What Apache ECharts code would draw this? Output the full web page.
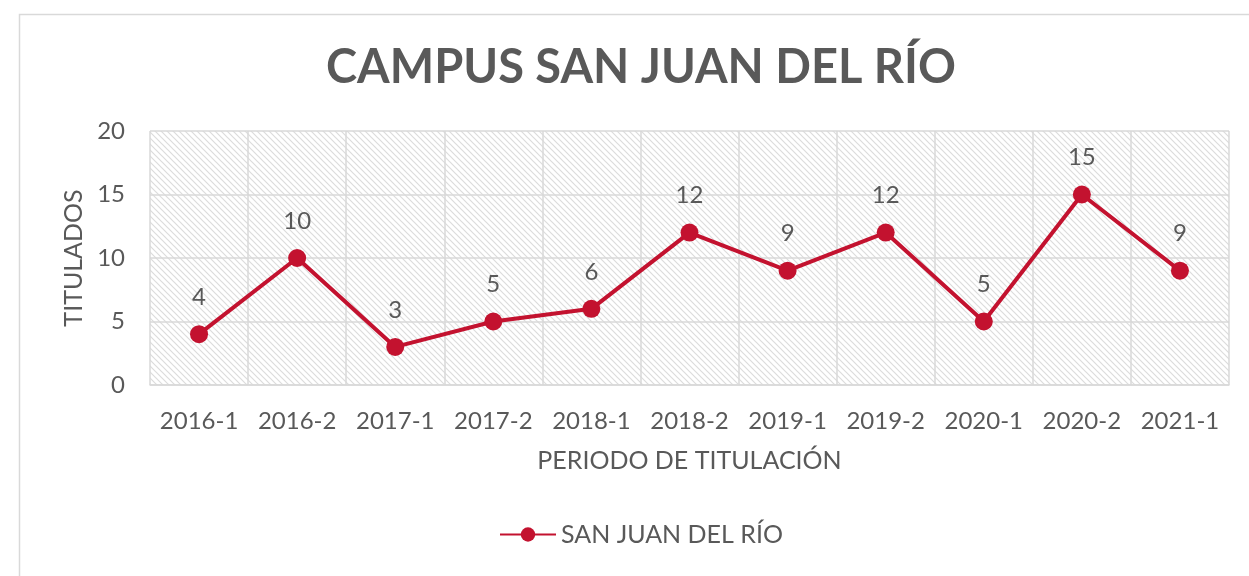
<!DOCTYPE html>
<html>
<head>
<meta charset="utf-8">
<script src="https://cdn.jsdelivr.net/npm/echarts@6/dist/echarts.min.js"></script>
<style>
  html, body { margin: 0; padding: 0; background: #fff; }
  #chart { width: 1249px; height: 576px; }
</style>
</head>
<body>
<div id="chart"></div>
<script>
var periodos = ['2016-1', '2016-2', '2017-1', '2017-2', '2018-1', '2018-2', '2019-1', '2019-2', '2020-1', '2020-2', '2021-1'];
var titulados = [4, 10, 3, 5, 6, 12, 9, 12, 5, 15, 9];
var serieNombre = 'SAN JUAN DEL RÍO';

// trama diagonal del fondo del área de trazado
var trama = document.createElement('canvas');
trama.width = 6;
trama.height = 6;
var ctx = trama.getContext('2d');
ctx.strokeStyle = '#dcdcdc';
ctx.lineWidth = 1.2;
ctx.beginPath();
ctx.moveTo(-1, -1); ctx.lineTo(7, 7);
ctx.moveTo(-4, 2); ctx.lineTo(2, 8);
ctx.moveTo(2, -4); ctx.lineTo(8, 2);
ctx.stroke();

var myChart = echarts.init(document.getElementById('chart'));
var gris = '#595959';
var rojo = '#C3122F';

var option = {
    animation: false,
    textStyle: { fontFamily: 'Lato, "Open Sans", sans-serif' },
    title: {
        text: 'CAMPUS SAN JUAN DEL RÍO',
        left: 321,
        top: 39,
        textStyle: { fontSize: 47, fontWeight: 'bold', color: gris, fontFamily: 'Lato, sans-serif' }
    },
    graphic: [{
        type: 'rect',
        shape: { x: 19.5, y: 14.5, width: 1260, height: 600 },
        style: { fill: 'none', stroke: '#d9d9d9', lineWidth: 1.5 },
        silent: true
    }],
    legend: {
        bottom: 24,
        left: 494,
        itemWidth: 56,
        itemHeight: 18,
        itemGap: 6,
        textStyle: { fontSize: 25, color: gris },
        data: [serieNombre]
    },
    grid: {
        left: 150,
        right: 20,
        top: 131,
        bottom: 191,
        show: true,
        borderWidth: 0,
        backgroundColor: { image: trama, repeat: 'repeat' }
    },
    xAxis: {
        type: 'category',
        data: periodos,
        boundaryGap: true,
        name: 'PERIODO DE TITULACIÓN',
        nameLocation: 'middle',
        nameGap: 63,
        nameTextStyle: { fontSize: 25, color: gris },
        axisLine: { lineStyle: { color: '#d9d9d9', width: 1.5 } },
        axisTick: { show: false },
        axisLabel: { fontSize: 24, color: gris, margin: 24, interval: 0 },
        splitLine: { show: true, interval: 0, lineStyle: { color: '#d9d9d9', width: 1.5 } }
    },
    yAxis: {
        type: 'value',
        min: 0,
        max: 20,
        interval: 5,
        name: 'TITULADOS',
        nameLocation: 'middle',
        nameGap: 62,
        nameTextStyle: { fontSize: 25, color: gris },
        axisLine: { show: false },
        axisTick: { show: false },
        axisLabel: { fontSize: 24, color: gris, margin: 25 },
        splitLine: { lineStyle: { color: '#d9d9d9', width: 1.5 } }
    },
    series: [{
        name: serieNombre,
        type: 'line',
        data: titulados,
        symbol: 'circle',
        symbolSize: 18,
        lineStyle: { color: rojo, width: 4 },
        itemStyle: { color: rojo },
        label: {
            show: true,
            position: 'top',
            distance: 16,
            fontSize: 24,
            color: gris
        }
    }]
};
myChart.setOption(option);
</script>
</body>
</html>
